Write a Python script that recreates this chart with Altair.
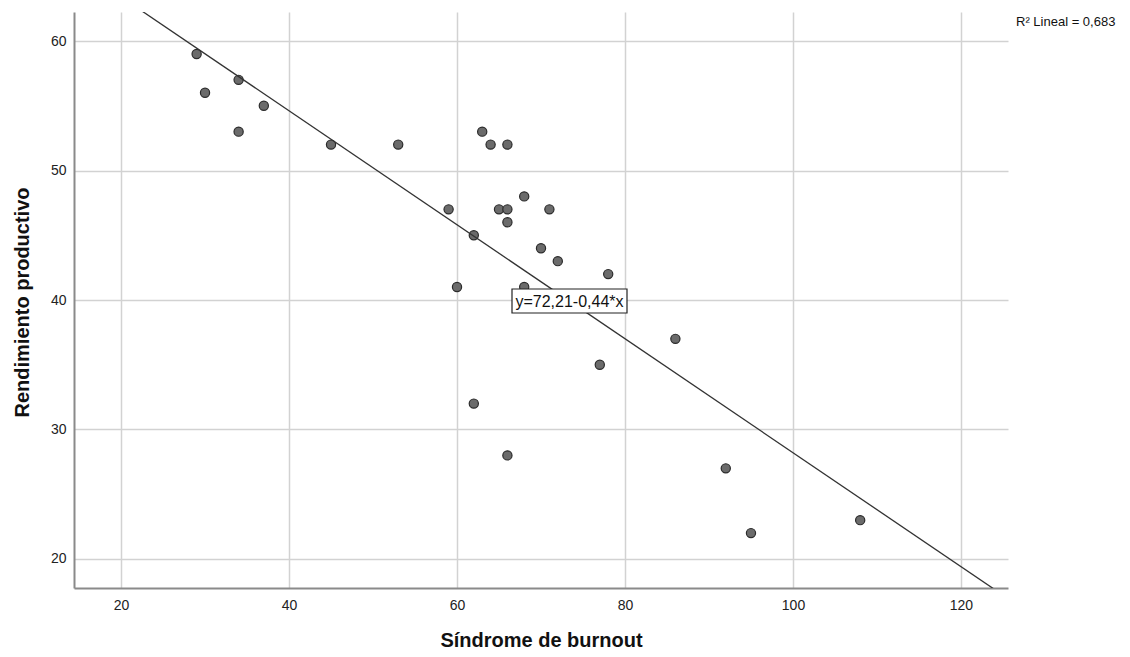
import altair as alt
import pandas as pd

# Data
burnout = [29, 30, 34, 34, 37, 45, 53, 59, 60, 62, 62, 63, 64, 65, 66, 66, 66, 66,
           68, 68, 70, 71, 72, 77, 78, 86, 92, 95, 108]
rendimiento = [59, 56, 57, 53, 55, 52, 52, 47, 41, 45, 32, 53, 52, 47, 52, 47, 46, 28,
               48, 41, 44, 47, 43, 35, 42, 37, 27, 22, 23]

x_ticks = [20, 40, 60, 80, 100, 120]
y_ticks = [20, 30, 40, 50, 60]
x_domain = [14.4, 125.6]
y_domain = [17.76, 62.24]

intercept = 72.21
slope = -0.44
equation_label = ["y=72,21-0,44*x"]
r2_label = ["R² Lineal = 0,683"]

FONT = "Liberation Sans"

pts = pd.DataFrame({"x": burnout, "y": rendimiento})
line_df = pd.DataFrame({"x": x_domain})

xscale = alt.Scale(domain=x_domain, nice=False, zero=False)
yscale = alt.Scale(domain=y_domain, nice=False, zero=False)

xaxis = alt.Axis(values=x_ticks, title="Síndrome de burnout", ticks=False,
                 labelPadding=10, labelFontSize=14, labelColor="#222",
                 titleFontSize=20, titleFontWeight="bold", titleColor="#111",
                 titleX=467, titleY=52, titleBaseline="middle", titleAlign="center",
                 grid=True, gridColor="#d2d2d2", gridWidth=1.5,
                 domainColor="#8a8a8a", domainWidth=2)
yaxis = alt.Axis(values=y_ticks, title="Rendimiento productivo", ticks=False,
                 labelPadding=8, labelFontSize=14, labelColor="#222",
                 titleFontSize=20, titleFontWeight="bold", titleColor="#111",
                 titleX=-52, titleY=290, titleAngle=-90, titleBaseline="middle",
                 titleAlign="center",
                 grid=True, gridColor="#d2d2d2", gridWidth=1.5,
                 domainColor="#8a8a8a", domainWidth=2)

points = alt.Chart(pts).mark_circle(
    size=85, color="#6b6b6b", opacity=1, stroke="#2b2b2b", strokeWidth=1.2
).encode(
    x=alt.X("x:Q", scale=xscale, axis=xaxis),
    y=alt.Y("y:Q", scale=yscale, axis=yaxis),
)

fit = alt.Chart(line_df).transform_calculate(
    y=f"{intercept} + ({slope}) * datum.x"
).mark_line(color="#333333", strokeWidth=1.3, clip=True).encode(
    x=alt.X("x:Q", scale=xscale),
    y=alt.Y("y:Q", scale=yscale),
)

box = alt.Chart(pd.DataFrame({"t": equation_label})).mark_rect(
    fill="white", stroke="#222", strokeWidth=1.2
).encode(
    x=alt.value(438), x2=alt.value(553), y=alt.value(277), y2=alt.value(301)
)

eq_text = alt.Chart(pd.DataFrame({"t": equation_label})).mark_text(
    font=FONT, fontSize=16, color="#111", align="center", baseline="middle"
).encode(
    text="t:N", x=alt.value(495.5), y=alt.value(289.5)
)

r2_text = alt.Chart(pd.DataFrame({"t": r2_label})).mark_text(
    font=FONT, fontSize=13, color="#111", align="left", baseline="middle"
).encode(
    text="t:N", x=alt.value(942), y=alt.value(10)
)

chart = alt.layer(points, fit, box, eq_text, r2_text).properties(
    width=934, height=576,
    padding={"left": 66, "top": 4, "right": 110, "bottom": 61},
    autosize=alt.AutoSizeParams(type="none"),
).configure(font=FONT).configure_view(stroke=None).configure_axis(
    labelFont=FONT, titleFont=FONT
)

chart.save("out.html", embed_options={"renderer": "svg", "actions": False})
